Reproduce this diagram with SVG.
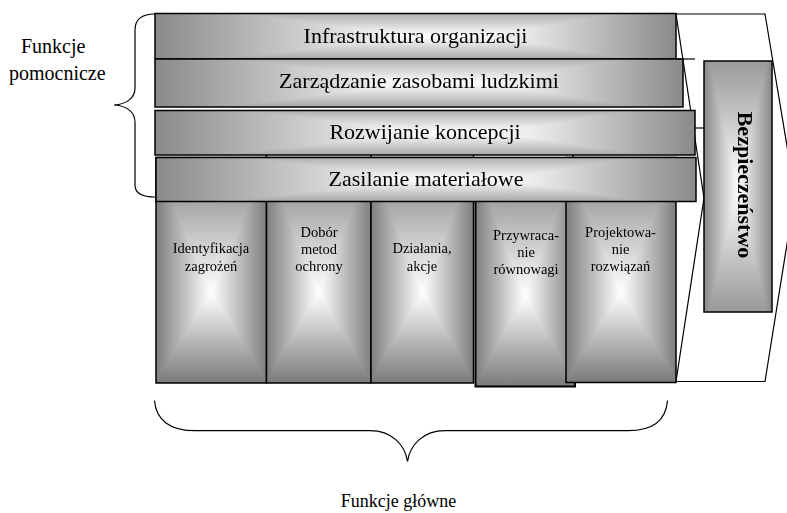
<svg xmlns="http://www.w3.org/2000/svg" width="787" height="513" viewBox="0 0 787 513">
<style>
.iso{isolation:isolate}
.dk{mix-blend-mode:darken}
.ol{fill:none;stroke:#000;stroke-width:1.5}
.ln{fill:none;stroke:#000;stroke-width:1.2}
.bt{font-family:"Liberation Serif","Times New Roman",serif;font-size:22px;fill:#000;text-anchor:middle}
.ct{font-family:"Liberation Serif","Times New Roman",serif;font-size:14.5px;fill:#000;text-anchor:middle}
.lt{font-family:"Liberation Serif","Times New Roman",serif;font-size:20px;fill:#000}
.bz{font-family:"Liberation Serif","Times New Roman",serif;font-size:22px;font-weight:bold;fill:#000;text-anchor:middle}
</style>
<defs>
<linearGradient id="barH" x1="0" y1="0" x2="1" y2="0">
<stop offset="0" stop-color="#8a8a8a"/><stop offset="0.45" stop-color="#f6f6f6"/><stop offset="0.58" stop-color="#ffffff"/><stop offset="0.7" stop-color="#ececec"/><stop offset="1" stop-color="#8a8a8a"/>
</linearGradient>
<linearGradient id="barV" x1="0" y1="0" x2="0" y2="1">
<stop offset="0" stop-color="#b0b0b0"/><stop offset="0.5" stop-color="#ffffff"/><stop offset="1" stop-color="#a8a8a8"/>
</linearGradient>
<linearGradient id="colH" x1="0" y1="0" x2="1" y2="0">
<stop offset="0" stop-color="#7e7e7e"/><stop offset="0.5" stop-color="#ffffff"/><stop offset="1" stop-color="#7e7e7e"/>
</linearGradient>
<linearGradient id="colV" x1="0" y1="0" x2="0" y2="1">
<stop offset="0" stop-color="#7a7a7a"/><stop offset="0.6" stop-color="#ffffff"/><stop offset="1" stop-color="#7a7a7a"/>
</linearGradient>
<linearGradient id="boxH" x1="0" y1="0" x2="1" y2="0">
<stop offset="0" stop-color="#888888"/><stop offset="0.5" stop-color="#ffffff"/><stop offset="1" stop-color="#888888"/>
</linearGradient>
<linearGradient id="boxV" x1="0" y1="0" x2="0" y2="1">
<stop offset="0" stop-color="#999999"/><stop offset="0.5" stop-color="#ffffff"/><stop offset="1" stop-color="#999999"/>
</linearGradient>
</defs>
<rect width="787" height="513" fill="#fff"/>

<g id="chevron">
<polyline class="ln" points="676,14 765,14 795,194"/>
<polyline class="ln" points="795,194 765,381.5 676,381.5"/>
<polyline class="ln" points="676,14 704,198 676,381.5"/>
</g>

<g id="col1" class="iso">
<rect x="156" y="157.5" width="110.5" height="225.5" fill="url(#colH)"/>
<rect class="dk" x="156" y="157.5" width="110.5" height="225.5" fill="url(#colV)"/>
<rect class="ol" x="156" y="157.5" width="110.5" height="225.5"/>
<line class="ol" x1="266.5" y1="155" x2="266.5" y2="158"/>
<text class="ct" x="211" y="253">Identyfikacja</text>
<text class="ct" x="211" y="270.5">zagrożeń</text>
</g>
<g id="col2" class="iso">
<rect x="266.5" y="157.5" width="104.5" height="225.5" fill="url(#colH)"/>
<rect class="dk" x="266.5" y="157.5" width="104.5" height="225.5" fill="url(#colV)"/>
<rect class="ol" x="266.5" y="157.5" width="104.5" height="225.5"/>
<line class="ol" x1="371" y1="155" x2="371" y2="158"/>
<text class="ct" x="319" y="236.5">Dobór</text>
<text class="ct" x="319" y="253.5">metod</text>
<text class="ct" x="319" y="270.5">ochrony</text>
</g>
<g id="col3" class="iso">
<rect x="371" y="157.5" width="102.5" height="225.5" fill="url(#colH)"/>
<rect class="dk" x="371" y="157.5" width="102.5" height="225.5" fill="url(#colV)"/>
<rect class="ol" x="371" y="157.5" width="102.5" height="225.5"/>
<line class="ol" x1="473.5" y1="155" x2="473.5" y2="158"/>
<text class="ct" x="422" y="253">Działania,</text>
<text class="ct" x="422" y="270.5">akcje</text>
</g>
<g id="col4" class="iso">
<rect x="475.5" y="160" width="99.5" height="226.5" fill="url(#colH)"/>
<rect class="dk" x="475.5" y="160" width="99.5" height="226.5" fill="url(#colV)"/>
<rect class="ol" x="475.5" y="160" width="99.5" height="226.5" style="stroke-width:2"/>
<line class="ol" x1="573" y1="155" x2="573" y2="158"/>
<text class="ct" x="526" y="240">Przywraca-</text>
<text class="ct" x="526" y="257">nie</text>
<text class="ct" x="526" y="274">równowagi</text>
</g>
<g id="col5" class="iso">
<rect x="566" y="157.5" width="110" height="225" fill="url(#colH)"/>
<rect class="dk" x="566" y="157.5" width="110" height="225" fill="url(#colV)"/>
<rect class="ol" x="566" y="157.5" width="110" height="225"/>
<text class="ct" x="620.5" y="236.5">Projektowa-</text>
<text class="ct" x="620.5" y="253.5">nie</text>
<text class="ct" x="620.5" y="270.5">rozwiązań</text>
</g>

<g id="bar1" class="iso">
<rect x="155" y="13.5" width="521" height="45.5" fill="url(#barH)"/>
<rect class="dk" x="155" y="13.5" width="521" height="45.5" fill="url(#barV)"/>
<rect class="ol" x="155" y="13.5" width="521" height="45.5"/>
<text class="bt" x="415.5" y="43">Infrastruktura organizacji</text>
</g>
<g id="bar2" class="iso">
<rect x="155" y="59" width="528" height="48" fill="url(#barH)"/>
<rect class="dk" x="155" y="59" width="528" height="48" fill="url(#barV)"/>
<rect class="ol" x="155" y="59" width="528" height="48"/>
<text class="bt" x="419" y="87.5">Zarządzanie zasobami ludzkimi</text>
</g>
<g id="bar3" class="iso">
<rect x="155" y="110.5" width="540" height="44.5" fill="url(#barH)"/>
<rect class="dk" x="155" y="110.5" width="540" height="44.5" fill="url(#barV)"/>
<rect class="ol" x="155" y="110.5" width="540" height="44.5"/>
<text class="bt" x="425" y="138.5">Rozwijanie koncepcji</text>
</g>
<g id="bar4" class="iso">
<rect x="156" y="157.5" width="540" height="44" fill="url(#barH)"/>
<rect class="dk" x="156" y="157.5" width="540" height="44" fill="url(#barV)"/>
<rect class="ol" x="156" y="157.5" width="540" height="44"/>
<text class="bt" x="426" y="185.5">Zasilanie materiałowe</text>
</g>

<g id="connectors">
<line class="ln" x1="676" y1="59" x2="695" y2="59"/>
<line class="ln" x1="695" y1="128" x2="704" y2="128"/>
</g>

<g id="bezpieczenstwo" class="iso">
<rect x="704" y="61" width="68" height="251" fill="url(#boxH)"/>
<rect class="dk" x="704" y="61" width="68" height="251" fill="url(#boxV)"/>
<rect class="ol" x="704" y="61" width="68" height="251"/>
<text class="bz" transform="translate(738,185) rotate(90)">Bezpieczeństwo</text>
</g>

<g id="brace-left">
<path class="ln" d="M155,14 C142,14 135,19 135,30 L135,88 C135,98 127,104 114,105 C127,106 135,112 135,122 L135,185 C135,193 142,197 155,197"/>
<text class="lt" x="21" y="53">Funkcje</text>
<text class="lt" x="9" y="79.5">pomocnicze</text>
</g>
<g id="brace-bottom">
<path class="ln" d="M154.5,400.5 C156,420 170,430.7 195,430.7 L370,430.7 C392,430.7 405,445 407.5,461.5 C410,445 423,430.7 445,430.7 L628,430.7 C653,430.7 666,420 667.5,400.5"/>
<text class="lt" x="398.5" y="507" text-anchor="middle" style="font-size:18px">Funkcje główne</text>
</g>
</svg>
